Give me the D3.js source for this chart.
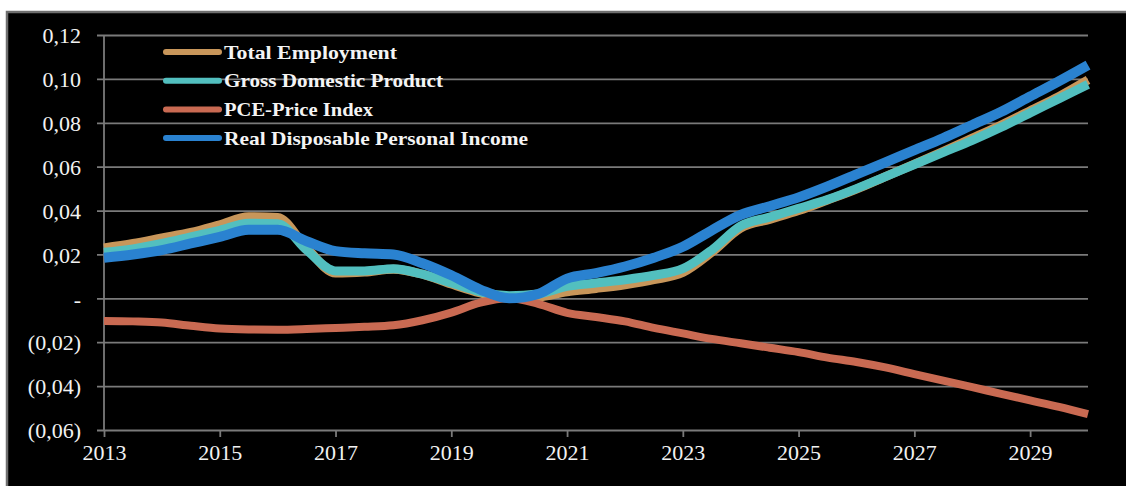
<!DOCTYPE html>
<html>
<head>
<meta charset="utf-8">
<script src="https://cdn.jsdelivr.net/npm/d3@7"></script>
<style>
  html, body { margin: 0; padding: 0; background: #ffffff; }
  svg { display: block; }
</style>
</head>
<body>
<svg id="chart" width="1126" height="486"></svg>
<script>
// ---- Data ----
const years = [2013, 2013.5, 2014, 2014.5, 2015, 2015.5, 2016, 2016.5, 2017, 2017.5,
  2018, 2018.5, 2019, 2019.5, 2020, 2020.5, 2021, 2021.5, 2022, 2022.5,
  2023, 2023.5, 2024, 2024.5, 2025, 2025.5, 2026, 2026.5, 2027, 2027.5,
  2028, 2028.5, 2029, 2029.5, 2030];

const totalEmployment = [0.023, 0.025, 0.0275, 0.030, 0.0335, 0.0372, 0.0368, 0.023, 0.0115, 0.012,
  0.0133, 0.011, 0.0065, 0.0025, 0.0002, 0.0006, 0.003, 0.0045, 0.0062, 0.0085,
  0.0118, 0.021, 0.032, 0.036, 0.040, 0.0448, 0.0498, 0.0555, 0.0612, 0.067,
  0.073, 0.079, 0.0855, 0.092, 0.0995];

const grossDomesticProduct = [0.021, 0.0225, 0.025, 0.028, 0.031, 0.0342, 0.034, 0.022, 0.0125, 0.0125,
  0.0135, 0.011, 0.007, 0.003, 0.0012, 0.002, 0.0055, 0.007, 0.0085, 0.0105,
  0.0135, 0.022, 0.033, 0.037, 0.041, 0.045, 0.050, 0.0555, 0.061, 0.0665,
  0.072, 0.078, 0.0845, 0.091, 0.0975];

const pcePriceIndex = [-0.0103, -0.0105, -0.011, -0.0125, -0.0138, -0.0142, -0.0143, -0.014, -0.0135, -0.013,
  -0.0123, -0.010, -0.0065, -0.002, 0.0, -0.0025, -0.0066, -0.0085, -0.0105, -0.0135,
  -0.016, -0.0185, -0.0205, -0.0225, -0.0245, -0.027, -0.029, -0.0315, -0.0345, -0.0375,
  -0.0405, -0.0435, -0.0465, -0.0495, -0.0528];

const realDisposableIncome = [0.0185, 0.020, 0.022, 0.025, 0.028, 0.0312, 0.0312, 0.026, 0.0215, 0.0205,
  0.020, 0.016, 0.0105, 0.004, 0.0, 0.002, 0.009, 0.0115, 0.0145, 0.0185,
  0.0235, 0.031, 0.038, 0.042, 0.046, 0.051, 0.0565, 0.062, 0.0675, 0.073,
  0.079, 0.085, 0.092, 0.099, 0.1063];

const seriesNames = ["Total Employment", "Gross Domestic Product", "PCE-Price Index", "Real Disposable Personal Income"];
const seriesColors = ["#c8965a", "#52bfbf", "#c96a52", "#2a82d0"];
const seriesValues = [totalEmployment, grossDomesticProduct, pcePriceIndex, realDisposableIncome];
const seriesWidths = [9, 9, 8, 10];
const legendTextLengths = [173, 219, 149, 304];

const yTicks = [-0.06, -0.04, -0.02, 0, 0.02, 0.04, 0.06, 0.08, 0.10, 0.12];
const yTickLabels = ["(0,06)", "(0,04)", "(0,02)", "-", "0,02", "0,04", "0,06", "0,08", "0,10", "0,12"];
const xTicks = [2013, 2015, 2017, 2019, 2021, 2023, 2025, 2027, 2029];

// ---- Layout ----
const svg = d3.select("#chart");
const plotLeft = 104, plotRight = 1088, plotTop = 35, plotBottom = 430;

svg.append("rect").attr("x", 7).attr("y", 12).attr("width", 1130).attr("height", 490)
  .attr("fill", "#000").attr("stroke", "#6f6f6f").attr("stroke-width", 2.5);

const x = d3.scaleLinear().domain([2013, 2030]).range([plotLeft, plotRight]);
const y = d3.scaleLinear().domain([-0.06, 0.12]).range([plotBottom, plotTop]);

const font = "'Liberation Serif', 'Times New Roman', serif";
const gridColor = "#7a7a7a";

// Y axis with gridlines
const yAxis = d3.axisLeft(y).tickValues(yTicks)
  .tickSize(-(plotRight - plotLeft))
  .tickFormat((d, i) => yTickLabels[i]);
const gy = svg.append("g").attr("transform", `translate(${plotLeft},0)`).call(yAxis);
gy.select(".domain").remove();
gy.selectAll(".tick line").attr("stroke", gridColor).attr("stroke-width", 1.8).attr("x1", -7);
gy.selectAll(".tick text").attr("x", -23).attr("dy", "0.35em")
  .attr("fill", "#f2f2f2").style("font-family", font).style("font-size", "22px");

// vertical axis line
svg.append("line").attr("x1", plotLeft).attr("x2", plotLeft).attr("y1", plotTop).attr("y2", plotBottom)
  .attr("stroke", gridColor).attr("stroke-width", 1.8);

// X axis
const xAxis = d3.axisBottom(x).tickValues(xTicks).tickSize(7).tickSizeOuter(0).tickFormat(d3.format("d"));
const gx = svg.append("g").attr("transform", `translate(0,${plotBottom})`).call(xAxis);
gx.select(".domain").remove();
gx.selectAll(".tick line").attr("stroke", gridColor).attr("stroke-width", 1.8);
gx.selectAll(".tick text").attr("y", 14).attr("dy", "0.71em")
  .attr("fill", "#f2f2f2").style("font-family", font).style("font-size", "22px");

// Lines
const line = d3.line().x((d, i) => x(years[i])).y(d => y(d)).curve(d3.curveMonotoneX);
seriesValues.forEach((vals, k) => {
  svg.append("path").datum(vals)
    .attr("d", line)
    .attr("fill", "none")
    .attr("stroke", seriesColors[k])
    .attr("stroke-width", seriesWidths[k])
    .attr("stroke-linejoin", "round");
});

// Legend
const legend = svg.append("g");
seriesNames.forEach((name, k) => {
  const ly = 52 + k * 28.7;
  legend.append("line").attr("x1", 166).attr("x2", 219).attr("y1", ly).attr("y2", ly)
    .attr("stroke", seriesColors[k]).attr("stroke-width", 6).attr("stroke-linecap", "round");
  legend.append("text").attr("x", 224).attr("y", ly).attr("dy", "0.35em")
    .attr("fill", "#f4f4f4").style("font-family", font).style("font-size", "19px")
    .style("font-weight", "bold")
    .attr("textLength", legendTextLengths[k]).attr("lengthAdjust", "spacingAndGlyphs")
    .text(name);
});
</script>
</body>
</html>
